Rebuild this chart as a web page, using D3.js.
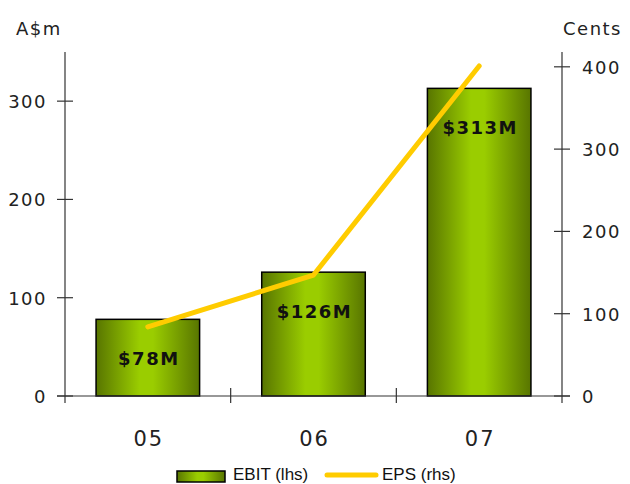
<!DOCTYPE html>
<html lang="en">
<head>
<meta charset="UTF-8">
<title>EBIT and EPS</title>
<script src="https://d3js.org/d3.v7.min.js"></script>
<style>
    body { margin: 0; background: #fff; }
    .tick-label { font-family: "DejaVu Sans", sans-serif; font-size: 18px; fill: #222; letter-spacing: 1.5px; }
    .cat-label { font-family: "DejaVu Sans", sans-serif; font-size: 21px; fill: #222; letter-spacing: 2px; }
    .bar-label { font-family: "DejaVu Sans", sans-serif; font-size: 18px; font-weight: bold; fill: #111; letter-spacing: 1.5px; }
    .legend-label { font-family: "Liberation Sans", Arial, sans-serif; font-size: 17px; fill: #111; }
</style>
</head>
<body>
<svg width="630" height="484"></svg>
<script>
    const years = ["05", "06", "07"];
    const ebit = [78, 126, 313];
    const eps = [84, 147, 401];
    const ebitLabels = ["$78M", "$126M", "$313M"];
    const leftTicks = [0, 100, 200, 300];
    const rightTicks = [0, 100, 200, 300, 400];

    const svg = d3.select("svg");
    const plotLeft = 65, plotRight = 562, plotTop = 52, plotBottom = 396;

    const defs = svg.append("defs");
    const grad = defs.append("linearGradient")
        .attr("id", "barGrad")
        .attr("x1", "0%").attr("x2", "100%").attr("y1", "0%").attr("y2", "0%");
    grad.append("stop").attr("offset", "0%").attr("stop-color", "#587500");
    grad.append("stop").attr("offset", "42%").attr("stop-color", "#9acd00");
    grad.append("stop").attr("offset", "55%").attr("stop-color", "#9acd00");
    grad.append("stop").attr("offset", "100%").attr("stop-color", "#587500");

    const xc = d3.scalePoint().domain(years).range([plotLeft, plotRight]).padding(0.5);
    const yL = d3.scaleLinear().domain([0, 350]).range([plotBottom, plotTop]);
    const yR = d3.scaleLinear().domain([0, 418]).range([plotBottom, plotTop]);
    const barW = xc.step() * 0.625;

    // bars
    svg.append("g").selectAll("rect")
        .data(ebit)
        .enter().append("rect")
        .attr("x", (d, i) => xc(years[i]) - barW / 2)
        .attr("width", barW)
        .attr("y", d => yL(d))
        .attr("height", d => yL(0) - yL(d))
        .style("fill", "url(#barGrad)")
        .style("stroke", "#000")
        .style("stroke-width", 1.5);

    // axes lines
    const axis = svg.append("g").style("stroke", "#333").style("stroke-width", 1.2);
    axis.append("line").attr("x1", plotLeft).attr("x2", plotLeft).attr("y1", plotTop).attr("y2", plotBottom + 7);
    axis.append("line").attr("x1", plotRight).attr("x2", plotRight).attr("y1", plotTop).attr("y2", plotBottom + 7);
    axis.append("line").attr("x1", plotLeft - 8).attr("x2", plotRight + 8).attr("y1", plotBottom).attr("y2", plotBottom);

    axis.selectAll("line.lt").data(leftTicks).enter().append("line")
        .attr("class", "lt")
        .attr("x1", plotLeft - 8).attr("x2", plotLeft + 8)
        .attr("y1", d => yL(d)).attr("y2", d => yL(d));
    axis.selectAll("line.rt").data(rightTicks).enter().append("line")
        .attr("class", "rt")
        .attr("x1", plotRight - 8).attr("x2", plotRight + 8)
        .attr("y1", d => yR(d)).attr("y2", d => yR(d));
    // category separators
    axis.selectAll("line.ct").data(years.slice(1)).enter().append("line")
        .attr("class", "ct")
        .attr("x1", d => xc(d) - xc.step() / 2).attr("x2", d => xc(d) - xc.step() / 2)
        .attr("y1", plotBottom - 8).attr("y2", plotBottom + 7);

    // tick labels
    svg.append("g").selectAll("text").data(leftTicks).enter().append("text")
        .attr("class", "tick-label")
        .attr("x", 47).attr("y", d => yL(d) + 7)
        .attr("text-anchor", "end")
        .text(d => d);
    svg.append("g").selectAll("text").data(rightTicks).enter().append("text")
        .attr("class", "tick-label")
        .attr("x", 582).attr("y", d => yR(d) + 7)
        .text(d => d);
    svg.append("g").selectAll("text").data(years).enter().append("text")
        .attr("class", "cat-label")
        .attr("x", d => xc(d) + 1).attr("y", 446)
        .attr("text-anchor", "middle")
        .text(d => d);

    svg.append("text").attr("class", "tick-label").attr("x", 16).attr("y", 35).text("A$m");
    svg.append("text").attr("class", "tick-label").attr("x", 563).attr("y", 35).text("Cents");

    // EPS line
    const line = d3.line()
        .x((d, i) => xc(years[i]))
        .y(d => yR(d));
    svg.append("path")
        .datum(eps)
        .attr("d", line)
        .style("fill", "none")
        .style("stroke", "#ffcc00")
        .style("stroke-width", 5)
        .style("stroke-linecap", "round")
        .style("stroke-linejoin", "round");

    // bar labels
    svg.append("g").selectAll("text").data(ebit).enter().append("text")
        .attr("class", "bar-label")
        .attr("x", (d, i) => xc(years[i]) + 1)
        .attr("y", d => yL(d) + 46)
        .attr("text-anchor", "middle")
        .text((d, i) => ebitLabels[i]);

    // legend
    const lg = svg.append("g");
    lg.append("rect").attr("x", 177).attr("y", 471).attr("width", 48).attr("height", 11)
        .style("fill", "url(#barGrad)").style("stroke", "#000").style("stroke-width", 1.5);
    lg.append("text").attr("class", "legend-label").attr("x", 233).attr("y", 480).text("EBIT (lhs)");
    lg.append("line").attr("x1", 327).attr("x2", 376).attr("y1", 475).attr("y2", 475)
        .style("stroke", "#ffcc00").style("stroke-width", 5).style("stroke-linecap", "round");
    lg.append("text").attr("class", "legend-label").attr("x", 382).attr("y", 480).text("EPS (rhs)");
</script>
</body>
</html>
